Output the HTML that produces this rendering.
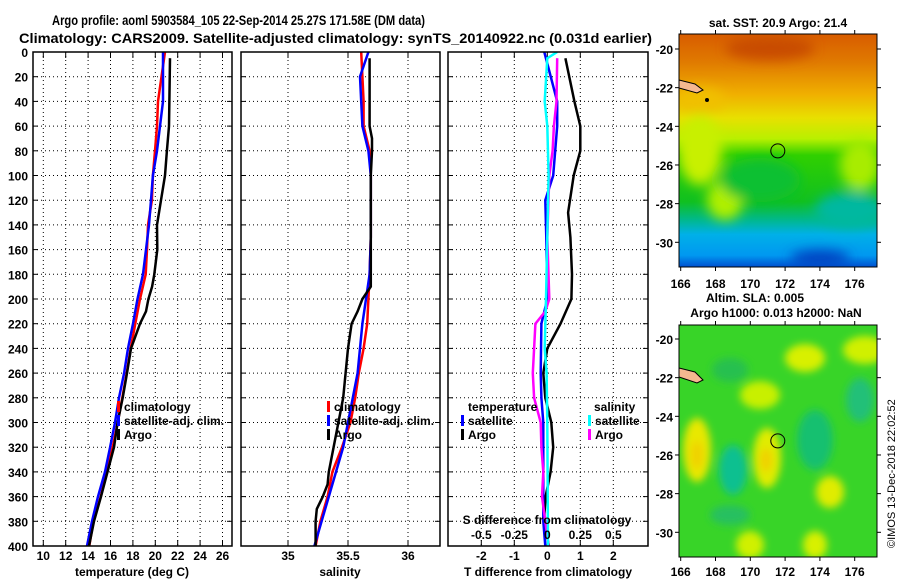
<!DOCTYPE html>
<html><head><meta charset="utf-8"><style>
html,body{margin:0;padding:0;background:#fff;}
svg{display:block;font-family:"Liberation Sans",Arial,sans-serif;font-weight:bold;}
</style></head><body>
<svg id="chart" width="900" height="580" viewBox="0 0 900 580" xmlns="http://www.w3.org/2000/svg">
<defs>
<clipPath id="c1"><rect x="33" y="52" width="199" height="494"/></clipPath>
<clipPath id="c2"><rect x="241" y="52" width="199" height="494"/></clipPath>
<clipPath id="c3"><rect x="448" y="52" width="200" height="494"/></clipPath>
<clipPath id="cm1"><rect x="679" y="34" width="198" height="233"/></clipPath>
<clipPath id="cm2"><rect x="679" y="325" width="198" height="232"/></clipPath>
<linearGradient id="sstg" x1="0" y1="0" x2="0" y2="1">
<stop offset="0" stop-color="#d85c00"/><stop offset="0.12" stop-color="#e07a00"/>
<stop offset="0.26" stop-color="#f0b000"/><stop offset="0.36" stop-color="#e8e000"/>
<stop offset="0.45" stop-color="#b8f000"/><stop offset="0.52" stop-color="#30d000"/>
<stop offset="0.72" stop-color="#10c020"/><stop offset="0.8" stop-color="#00b890"/>
<stop offset="0.86" stop-color="#00b0e8"/><stop offset="0.95" stop-color="#0098f0"/>
<stop offset="1" stop-color="#0050d0"/></linearGradient>
<filter id="bl" x="-50%" y="-50%" width="200%" height="200%"><feGaussianBlur stdDeviation="6"/></filter>
<filter id="bl2" x="-50%" y="-50%" width="200%" height="200%"><feGaussianBlur stdDeviation="4"/></filter>
</defs>
<g id="titles">
<text x="52" y="25" font-size="14" textLength="373" lengthAdjust="spacingAndGlyphs">Argo profile: aoml 5903584_105 22-Sep-2014 25.27S 171.58E (DM data)</text>
<text x="19" y="43" font-size="14" textLength="633" lengthAdjust="spacingAndGlyphs">Climatology: CARS2009. Satellite-adjusted climatology: synTS_20140922.nc (0.031d earlier)</text>
</g>
<g id="p1"></g><g id="p2"></g><g id="p3"></g>
<g id="maps">
<text x="778" y="27" font-size="12" text-anchor="middle">sat. SST: 20.9 Argo: 21.4</text>
<g clip-path="url(#cm1)">
<rect x="679" y="34" width="198" height="233" fill="url(#sstg)"/>
<g filter="url(#bl)">
<ellipse cx="700" cy="150" rx="22" ry="35" fill="#c8f000"/>
<ellipse cx="725" cy="200" rx="18" ry="20" fill="#b0f000"/>
<ellipse cx="860" cy="165" rx="20" ry="25" fill="#a8ec00"/>
<ellipse cx="850" cy="210" rx="35" ry="18" fill="#00b8a0"/>
<ellipse cx="700" cy="100" rx="25" ry="12" fill="#f0c000"/>
<ellipse cx="770" cy="48" rx="45" ry="12" fill="#c84c00"/>
<ellipse cx="760" cy="180" rx="40" ry="22" fill="#10c030"/>
<ellipse cx="820" cy="258" rx="30" ry="8" fill="#0040c0"/>
</g>
<path d="M679 80 L695 84 L703 90 L697 93 L679 88Z" fill="#f5b890" stroke="#000" stroke-width="1"/>
<circle cx="707" cy="100" r="2" fill="#000"/>
</g>
<rect x="679" y="34" width="198" height="233" fill="none" stroke="#000"/>
<circle cx="777.8" cy="150.9" r="7" fill="none" stroke="#000"/>
<text x="755" y="302" font-size="12" text-anchor="middle">Altim. SLA: 0.005</text>
<text x="776" y="317" font-size="12" text-anchor="middle">Argo h1000: 0.013 h2000: NaN</text>
<g clip-path="url(#cm2)">
<rect x="679" y="325" width="198" height="232" fill="#38d428"/>
<g filter="url(#bl2)">
<ellipse cx="697" cy="450" rx="14" ry="32" fill="#e8e800"/>
<ellipse cx="697" cy="455" rx="6" ry="14" fill="#f0d000"/>
<ellipse cx="767" cy="458" rx="14" ry="30" fill="#e0ec00"/>
<ellipse cx="766" cy="460" rx="6" ry="12" fill="#f0d000"/>
<ellipse cx="733" cy="470" rx="14" ry="25" fill="#10c090"/>
<ellipse cx="815" cy="440" rx="18" ry="30" fill="#18c070"/>
<ellipse cx="805" cy="358" rx="20" ry="14" fill="#d8f000"/>
<ellipse cx="760" cy="395" rx="20" ry="14" fill="#c8f000"/>
<ellipse cx="865" cy="350" rx="22" ry="14" fill="#d0f000"/>
<ellipse cx="830" cy="492" rx="14" ry="16" fill="#e0ec00"/>
<ellipse cx="860" cy="400" rx="14" ry="22" fill="#20c078"/>
<ellipse cx="730" cy="370" rx="18" ry="12" fill="#28c050"/>
<ellipse cx="750" cy="545" rx="14" ry="14" fill="#d0f000"/>
<ellipse cx="815" cy="545" rx="12" ry="14" fill="#d8f000"/>
<ellipse cx="730" cy="515" rx="20" ry="10" fill="#28c060"/>
</g>
<path d="M679 368 L695 372 L703 380 L697 383 L679 377Z" fill="#f5b890" stroke="#000" stroke-width="1"/>
</g>
<rect x="679" y="325" width="198" height="232" fill="none" stroke="#000"/>
<circle cx="777.8" cy="440.9" r="7" fill="none" stroke="#000"/>
<text transform="translate(895,548) rotate(-90)" font-size="11" font-weight="normal">©IMOS 13-Dec-2018 22:02:52</text>
</g>
<g id="mapaxes"></g>
</svg>
<script>
const NS="http://www.w3.org/2000/svg";
const svg=document.getElementById('chart');
function mk(tag,attrs,parent,txt){const e=document.createElementNS(NS,tag);for(const k in attrs)e.setAttribute(k,attrs[k]);if(txt!==undefined)e.textContent=txt;(parent||svg).appendChild(e);return e;}

// ---- data ----
const depthTicks=[0,20,40,60,80,100,120,140,160,180,200,220,240,260,280,300,320,340,360,380,400];
const tempTicks=[10,12,14,16,18,20,22,24,26];
const salTicks=[35,35.5,36];
const salTickLabels=["35","35.5","36"];
const tdiffTicks=[-2,-1,0,1,2];
const sdiffTicks=[-0.5,-0.25,0,0.25,0.5];
const sdiffTickLabels=["-0.5","-0.25","0","0.25","0.5"];

const climTDepth=[0,40,60,80,100,120,140,160,180,200,220,240,260,280,300,320,340,360,380,400];
const climT=[20.87,20.24,20.15,19.97,19.79,19.70,19.35,19.26,19.14,18.63,18.21,17.80,17.45,17.05,16.64,16.20,15.66,15.13,14.46,14.11];
const satT=[20.69,20.69,20.42,20.15,19.79,19.62,19.44,19.17,18.90,18.41,18.01,17.56,17.21,16.76,16.40,15.96,15.51,14.88,14.35,13.90];
const argoTDepth=[5,60,80,100,120,140,160,180,190,200,210,220,240,260,280,300,320,340,360,380,400];
const argoT=[21.31,21.22,21.04,20.87,20.51,20.15,20.18,19.91,19.71,19.38,19.17,18.63,17.83,17.47,17.09,16.63,16.31,15.73,15.15,14.53,14.08];

const salDepth=[0,20,40,60,80,100,150,180,200,220,240,260,280,300,320,340,360,380,400];
const climS=[35.61,35.62,35.63,35.63,35.68,35.69,35.69,35.68,35.67,35.66,35.63,35.59,35.56,35.52,35.45,35.37,35.33,35.27,35.23];
const satS=[35.67,35.60,35.61,35.62,35.67,35.69,35.69,35.68,35.65,35.62,35.60,35.58,35.54,35.50,35.46,35.40,35.34,35.28,35.22];
const argoSDepth=[5,60,70,80,100,170,190,200,210,220,240,260,280,300,320,340,350,360,370,380,400];
const argoS=[35.68,35.68,35.70,35.70,35.69,35.69,35.69,35.62,35.58,35.53,35.50,35.48,35.46,35.42,35.38,35.34,35.33,35.29,35.24,35.23,35.23];

const argoTdDepth=[5,40,60,80,100,130,150,180,200,220,240,260,280,300,320,340,360,380,400];
const argoTd=[0.55,0.82,1.0,1.0,0.8,0.63,0.7,0.75,0.73,0.4,0,-0.12,-0.06,0.12,0.18,0.1,-0.05,-0.1,0.05];
const satTdDepth=[0,40,60,80,100,120,150,200,220,260,280,300,340,380,400];
const satTd=[-0.09,0.3,0.3,0.24,0.18,-0.06,-0.03,0,-0.18,-0.2,-0.18,-0.12,-0.12,-0.12,-0.06];
const satSdDepth=[0,5,40,60,100,200,240,260,300,400];
const satSd=[0.075,0,-0.02,0,0.01,-0.01,-0.02,-0.005,0,0.005];
const argoSdDepth=[5,40,60,80,100,150,200,210,220,240,260,280,300,320,340,360,380,400];
const argoSd=[0.075,0.07,0.05,0.04,0.015,0,0.015,-0.015,-0.09,-0.1,-0.11,-0.1,-0.05,-0.045,-0.03,-0.04,-0.015,0.01];

const lonTicks=[166,168,170,172,174,176];
const latTicks=[-20,-22,-24,-26,-28,-30];

// ---- scales ----
const Y0=52,Y1=546;
const yD=d=>Y0+(d/400)*(Y1-Y0);
const xT=t=>43.3+(t-10)*11.2;
const xS=s=>288+(s-35)*120;
const xTd=t=>547.3+t*33;
const xSd=s=>547.3+s*132;

function panel(g,x0,x1,name){
  const grp=document.getElementById(g);
  
  
  return grp;
}
function grid(grp,xs,x0,x1){
  xs.forEach(x=>{mk('line',{x1:x,x2:x,y1:Y0,y2:Y1,stroke:'#000','stroke-width':1,'stroke-dasharray':'1,3'},grp);
    mk('line',{x1:x,x2:x,y1:Y1,y2:Y1-6,stroke:'#000'},grp);mk('line',{x1:x,x2:x,y1:Y0,y2:Y0+6,stroke:'#000'},grp);});
  depthTicks.forEach(d=>{const y=yD(d);if(d>0&&d<400)mk('line',{x1:x0,x2:x1,y1:y,y2:y,stroke:'#000','stroke-dasharray':'1,3'},grp);
    mk('line',{x1:x0,x2:x0+5,y1:y,y2:y,stroke:'#000'},grp);mk('line',{x1:x1-5,x2:x1,y1:y,y2:y,stroke:'#000'},grp);});
}
function line(grp,depths,vals,sx,color,clip,name){
  const pts=depths.map((d,i)=>sx(vals[i]).toFixed(1)+','+yD(d).toFixed(1)).join(' ');
  const p=mk('polyline',{points:pts,fill:'none',stroke:color,'stroke-width':2.5,'clip-path':'url(#'+clip+')'},grp);
  
  
}
function frame(grp,x0,x1){mk('rect',{x:x0,y:Y0,width:x1-x0,height:Y1-Y0,fill:'none',stroke:'#000','stroke-width':1.5},grp);}
function legend(grp,x,y,color,label,name){
  const b=mk('rect',{x:x,y:y-10,width:3,height:11,fill:color},grp);
  
  
  const t=mk('text',{x:x+7,y:y,'font-size':12},grp,label);
  
  
}

// Panel 1: temperature
let g=panel('p1',33,232,'temperature-panel');
grid(g,tempTicks.map(xT),33,232);
line(g,climTDepth,climT,xT,'#ff0000','c1','climatology-temperature-line');
line(g,climTDepth,satT,xT,'#0000ff','c1','satellite-temperature-line');
line(g,argoTDepth,argoT,xT,'#000000','c1','argo-temperature-line');
frame(g,33,232);
depthTicks.forEach(d=>{const t=mk('text',{x:28,y:yD(d)+5,'font-size':12,'text-anchor':'end'},g,String(d));
  });
tempTicks.forEach(v=>{const t=mk('text',{x:xT(v),y:560,'font-size':12,'text-anchor':'middle'},g,String(v));
  });
let at=mk('text',{x:132,y:576,'font-size':12,'text-anchor':'middle'},g,'temperature (deg C)');

legend(g,117,411,'#ff0000','climatology','legend-climatology');
legend(g,117,425,'#0000ff','satellite-adj. clim.','legend-satellite-adj');
legend(g,117,439,'#000000','Argo','legend-argo');

// Panel 2: salinity
g=panel('p2',241,440,'salinity-panel');
grid(g,salTicks.map(xS),241,440);
line(g,salDepth,climS,xS,'#ff0000','c2','climatology-salinity-line');
line(g,salDepth,satS,xS,'#0000ff','c2','satellite-salinity-line');
line(g,argoSDepth,argoS,xS,'#000000','c2','argo-salinity-line');
frame(g,241,440);
salTicks.forEach((v,i)=>{const t=mk('text',{x:xS(v),y:560,'font-size':12,'text-anchor':'middle'},g,salTickLabels[i]);
  });
at=mk('text',{x:340,y:576,'font-size':12,'text-anchor':'middle'},g,'salinity');

legend(g,327,411,'#ff0000','climatology','legend-climatology-s');
legend(g,327,425,'#0000ff','satellite-adj. clim.','legend-satellite-adj-s');
legend(g,327,439,'#000000','Argo','legend-argo-s');

// Panel 3: differences
g=panel('p3',448,648,'difference-panel');
grid(g,tdiffTicks.map(xTd),448,648);
line(g,argoTdDepth,argoTd,xTd,'#000000','c3','argo-temperature-difference-line');
line(g,satTdDepth,satTd,xTd,'#0000ff','c3','satellite-temperature-difference-line');
line(g,argoSdDepth,argoSd,xSd,'#ff00ff','c3','argo-salinity-difference-line');
line(g,satSdDepth,satSd,xSd,'#00ffff','c3','satellite-salinity-difference-line');
frame(g,448,648);
tdiffTicks.forEach(v=>{const t=mk('text',{x:xTd(v),y:560,'font-size':12,'text-anchor':'middle'},g,String(v));
  });
sdiffTicks.forEach((v,i)=>{const t=mk('text',{x:xSd(v),y:539,'font-size':12,'text-anchor':'middle'},g,sdiffTickLabels[i]);
  });
at=mk('text',{x:547,y:524,'font-size':12,'text-anchor':'middle'},g,'S difference from climatology');

at=mk('text',{x:548,y:576,'font-size':12,'text-anchor':'middle'},g,'T difference from climatology');

at=mk('text',{x:468,y:411,'font-size':12},g,'temperature');

legend(g,461,425,'#0000ff','satellite','legend-t-satellite');
legend(g,461,439,'#000000','Argo','legend-t-argo');
at=mk('text',{x:594,y:411,'font-size':12},g,'salinity');

legend(g,588,425,'#00ffff','satellite','legend-s-satellite');
legend(g,588,439,'#ff00ff','Argo','legend-s-argo');

// Map axes
const ma=document.getElementById('mapaxes');
const xLon=l=>680.7+(l-166)*17.4;
[[34,267,49,288],[325,557,339,576]].forEach(([top,bot,lat20,ly],k)=>{
  lonTicks.forEach(l=>{const x=xLon(l);
    mk('line',{x1:x,x2:x,y1:top,y2:top-4,stroke:'#000'},ma);mk('line',{x1:x,x2:x,y1:bot,y2:bot+4,stroke:'#000'},ma);
    const t=mk('text',{x:x,y:ly,'font-size':12,'text-anchor':'middle'},ma,String(l));
    });
  latTicks.forEach(la=>{const y=lat20+(-20-la)*19.33;
    mk('line',{x1:675,x2:679,y1:y,y2:y,stroke:'#000'},ma);mk('line',{x1:877,x2:881,y1:y,y2:y,stroke:'#000'},ma);
    const t=mk('text',{x:673,y:y+5,'font-size':12,'text-anchor':'end'},ma,String(la));
    });
});
</script>
</body></html>
